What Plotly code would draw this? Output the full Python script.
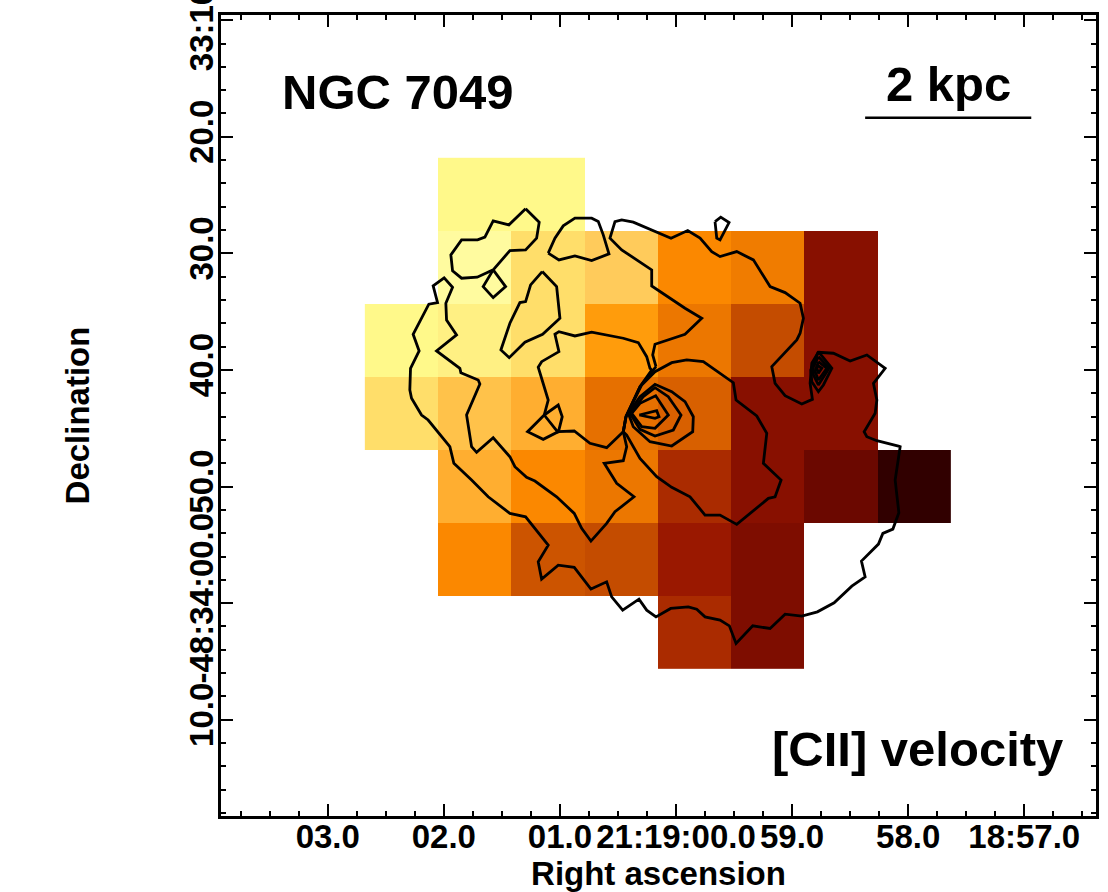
import plotly.graph_objects as go

# --- world coordinates of the map grid (grid unit = one map pixel) ---
RA_REF_I, RA_REF, RA_SCALE = 676.0, 60.0, 116.0      # RA seconds past 21:18:00
DEC_REF_J, DEC_REF, DEC_SCALE = 603.0, 60.0, 11.65   # Dec arcsec past -48:33:00


def ra(i):
    return RA_REF - (i - RA_REF_I) / RA_SCALE


def dec(j):
    return DEC_REF + (j - DEC_REF_J) / DEC_SCALE


# --- axis ticks ---
ra_ticks = [63, 62, 61, 60, 59, 58, 57]
ra_labels = ["03.0", "02.0", "01.0", "21:19:00.0", "59.0", "58.0", "18:57.0"]
ra_minor = [63.75 - 0.25 * k for k in range(30)]
dec_ticks = [10, 20, 30, 40, 50, 60, 70]
dec_labels = ["33:10.0", "20.0", "30.0", "40.0", "50.0", "-48:34:00.0", "10.0"]
dec_minor = [10 + 2 * k for k in range(35)]

# --- [CII] velocity map (arbitrary 0-100 colour-table level), rows north to south ---
vel_row0 = [None, 5, 5, None, None, None, None, None]
vel_row1 = [None, 0, 15, 20, 40, 45, 75, None]
vel_row2 = [5, 10, 15, 35, 47, 60, 75, None]
vel_row3 = [15, 25, 30, 50, 55, 75, 75, None]
vel_row4 = [None, 30, 40, 47, 65, 75, 85, 100]
vel_row5 = [None, 40, 58, 60, 70, 80, None, None]
vel_row6 = [None, None, None, None, 65, 80, None, None]
velocity = [vel_row0, vel_row1, vel_row2, vel_row3, vel_row4, vel_row5, vel_row6]
cell_i = [401.6, 474.7, 547.9, 621.0, 694.2, 767.3, 840.5, 913.6]
cell_j = [194.5, 267.5, 340.5, 413.5, 486.5, 559.5, 632.5]

colorscale = [
    [0.00, "#FFFB9F"], [0.05, "#FFF98A"], [0.10, "#FFF083"], [0.15, "#FFDE6A"],
    [0.20, "#FFCB5B"], [0.25, "#FFC24A"], [0.30, "#FFAE30"], [0.35, "#FF9C0C"],
    [0.40, "#FB8800"], [0.45, "#F07C00"], [0.50, "#E67000"], [0.55, "#D86000"],
    [0.60, "#C44C00"], [0.65, "#AA2B00"], [0.70, "#9A1800"], [0.75, "#881000"],
    [0.80, "#7E0D00"], [0.85, "#6B0800"], [1.00, "#310000"],
]

# --- contours, (i, j) map-grid vertices ---
c_outer = [(656, 366.7), (652.7, 355), (655, 344.3), (685, 334.3), (701.7, 318.3), (685, 308.3),
           (651.7, 286), (651.7, 270), (621.7, 250), (610, 238.3), (615, 221.7), (621.7, 220),
           (633.3, 222.3), (671, 238.3), (687.7, 230.7), (700, 238.3), (711.7, 251.7), (720, 256.7),
           (736.7, 251.7), (753.3, 260), (770, 286.7), (785, 292.7), (800, 303.3), (803.3, 318.3),
           (800, 333.3), (796.7, 340), (771.7, 366.7), (775, 383.3), (785, 395.7), (801.7, 404),
           (812.3, 399.3), (810, 383.3), (811.7, 363.3), (818.3, 352.3), (833.3, 353.3), (850, 361),
           (866.7, 355), (885, 368.3), (873.3, 383.3), (876.7, 400), (875, 413.3), (864, 431.7),
           (866.7, 436.7), (876.7, 440.7), (898.3, 446), (900, 446.7), (895, 480), (898.7, 512.7),
           (892.7, 529), (882.7, 533.3), (878.3, 544), (861.3, 561), (865, 576.7), (851.7, 586),
           (834, 602.7), (817.3, 611.7), (801.7, 616), (785, 614), (770, 628.3), (752.7, 625.7),
           (736, 643.3), (729.3, 625.7), (720, 620), (710, 617.3), (705, 616.7), (696.7, 609),
           (688.3, 606.7), (670.7, 608.3), (656, 616.7), (646.7, 610), (639, 599), (622.7, 610),
           (611.7, 596.7), (606.7, 581.7), (591, 589), (574.3, 567.3), (558.3, 565), (541.7, 579),
           (538.3, 561.7), (548.3, 545), (525.7, 516.7), (510, 513.3), (488.3, 496.7), (471.7, 480),
           (454, 463.3), (450, 446.7), (430, 421.7), (428.3, 420), (421.7, 415), (411.7, 398.3),
           (410, 390), (410.7, 368.3), (419.3, 351), (413.3, 334.3), (429, 304.3), (437.7, 302.7),
           (433.3, 286), (444.3, 278), (452.7, 287.3), (446, 303.3), (446.7, 320), (456.7, 335),
           (436.7, 351), (460, 368.3), (461, 372.7), (478.3, 380), (480, 384), (466.7, 415),
           (471.7, 446.7), (476.7, 452.3), (493.3, 437.7), (510, 456.7), (515, 466.7), (526.7, 477.3),
           (535, 481), (556.7, 496.7), (574.3, 513.3), (581.7, 528.3), (591, 541), (606.7, 523.3),
           (615, 511.7), (634, 496.7), (616.7, 483.3), (604.3, 463.3), (623.3, 460.7), (626.7, 446.7),
           (623.3, 431.7), (626, 416.7), (640, 386.7), (656, 366.7)]
c_west = [(623.3, 431.7), (606.7, 447.7), (590, 443.3), (574.3, 431), (558.3, 431.7), (543.3, 439.3),
          (527.7, 431.7), (544.3, 415), (548.3, 400), (538.3, 367.3), (541.7, 361.7), (559, 351.7),
          (555, 334.3), (559, 331.7), (575, 336), (591.7, 332.3), (623.3, 338.3), (638.3, 342.7),
          (646.7, 356.7), (650, 368.3), (651.7, 370), (640, 386.7), (626, 416.7), (623.3, 431.7)]
c_east = [(626, 416.7), (641.7, 385), (655, 371.7), (671.7, 362.7), (686.7, 360), (703.3, 361.7),
          (733.3, 382.7), (736, 400), (756.7, 416), (766.7, 433.3), (763.3, 463.3), (781, 480),
          (775, 496.7), (768.3, 498.3), (736.7, 524.3), (720, 515), (705, 515), (690, 496.7),
          (671.7, 487.3), (656.7, 476.7), (640, 458.3), (626.7, 435), (623.3, 431.7), (626, 416.7)]
c_tri = [(544.3, 415), (558.3, 432.7), (562.3, 416.7), (558.3, 405), (544.3, 415)]
c_blob = [(525.7, 209), (539.3, 222.3), (536.7, 238.3), (525.7, 250), (510, 250.7), (493.3, 270),
          (477.3, 277.3), (461.7, 278.3), (452.7, 271), (451, 255), (461.7, 240), (477.7, 240),
          (485, 237.3), (493.3, 221), (509, 225), (525.7, 209)]
c_diamond = [(493.3, 270), (505.7, 286.7), (493.3, 297.7), (483.3, 286.7), (493.3, 270)]
c_arch = [(548.3, 253.3), (555, 238.3), (563.3, 226), (575, 218.3), (591.7, 218.3), (598.3, 221.7),
          (603.3, 235), (609, 254), (591.7, 260.7), (575, 256), (559, 260), (548.3, 253.3)]
c_drop = [(542.3, 271.7), (556.7, 286.7), (560, 318.3), (542.7, 334.3), (525, 342.3), (509.3, 357.7),
          (501, 350), (510, 323.3), (520, 302.7), (525.7, 301.7), (530.7, 285), (542.3, 271.7)]
c_top = [(715, 221.7), (720.7, 217.3), (729, 222.7), (720, 240), (716.7, 238.3), (715, 221.7)]
c_nuc1 = [(628.3, 413.3), (640, 396.7), (655, 384.3), (671.7, 391.7), (685, 401.7), (693.3, 416.7),
          (692.7, 431.7), (671.7, 446), (650, 441.7), (633.3, 426.7), (628.3, 413.3)]
c_nuc2 = [(630, 413.3), (643.3, 396.7), (655, 387.7), (668.3, 396.7), (681, 415), (673.3, 430),
          (655, 436), (640, 429.3), (630, 413.3)]
c_nuc3 = [(631.7, 413.3), (640, 403.3), (655.7, 395.7), (668.3, 415), (655, 428.3), (641.7, 426.7),
          (631.7, 413.3)]
c_nuc4 = [(639.3, 415), (656.7, 410.7), (659, 416.7), (655, 418.3), (639.3, 415)]
c_knot1 = [(818.3, 351.7), (831.7, 368.3), (823.3, 385), (818.3, 391.7), (811.7, 381.7), (810.7, 370),
           (818.3, 351.7)]
c_knot2 = [(818.3, 356.7), (829, 368.3), (818.3, 385), (813.3, 375), (813.3, 366.7), (818.3, 356.7)]
c_knot3 = [(818.3, 361.7), (826.7, 368.3), (818.3, 380), (815, 371.7), (818.3, 361.7)]
c_knot4 = [(816.7, 365), (821.7, 368.3), (818.3, 373.3), (816.7, 368.3), (816.7, 365)]
contours = [c_outer, c_west, c_east, c_tri, c_blob, c_diamond, c_arch, c_drop, c_top,
            c_nuc1, c_nuc2, c_nuc3, c_nuc4, c_knot1, c_knot2, c_knot3, c_knot4]

scale_bar_i = [865, 1031]
scale_bar_j = [118, 118]

FONT = "Liberation Sans"
fig = go.Figure()
fig.add_trace(go.Heatmap(
    x=[ra(i) for i in cell_i], y=[dec(j) for j in cell_j], z=velocity,
    colorscale=colorscale, zmin=0, zmax=100, showscale=False, hoverongaps=False,
))
for c in contours:
    fig.add_trace(go.Scatter(
        x=[ra(p[0]) for p in c], y=[dec(p[1]) for p in c], mode="lines",
        line=dict(color="black", width=2.8), showlegend=False,
    ))
fig.add_trace(go.Scatter(
    x=[ra(i) for i in scale_bar_i], y=[dec(j) for j in scale_bar_j], mode="lines",
    line=dict(color="black", width=2.4), showlegend=False,
))

axis_common = dict(
    showgrid=False, zeroline=False, showline=True, linecolor="black", linewidth=2.6,
    mirror="ticks", ticks="inside", ticklen=12, tickwidth=2, tickcolor="black",
    tickmode="array", tickfont=dict(family=FONT, size=33, color="black", weight="bold"),
    automargin=False, ticklabeloverflow="allow",
)
fig.update_layout(
    width=1108, height=892, margin=dict(l=221.3, r=12.3, t=15.3, b=76.3),
    paper_bgcolor="white", plot_bgcolor="white", showlegend=False,
    xaxis=dict(
        axis_common, range=[ra(221.3), ra(1095.7)], tickvals=ra_ticks, ticktext=ra_labels, tickangle=0,
        ticklabelstandoff=-10,
        minor=dict(tickvals=ra_minor, ticks="inside", ticklen=5, tickwidth=2, tickcolor="black"),
        title=dict(text="Right ascension", standoff=2,
                   font=dict(family=FONT, size=33, color="black", weight="bold")),
    ),
    yaxis=dict(
        axis_common, range=[dec(815.7), dec(15.3)], tickvals=dec_ticks, ticktext=dec_labels, tickangle=-90,
        ticklabelstandoff=-8,
        minor=dict(tickvals=dec_minor, ticks="inside", ticklen=5, tickwidth=2, tickcolor="black"),
        title=dict(text="Declination", standoff=84,
                   font=dict(family=FONT, size=33, color="black", weight="bold")),
    ),
)


def note(text, i, j):
    fig.add_annotation(
        text=text, xref="x", yref="y", x=ra(i), y=dec(j),
        showarrow=False, xanchor="center", yanchor="middle",
        font=dict(family=FONT, size=49, color="black", weight="bold"),
    )


note("NGC 7049", 398, 92)
note("2 kpc", 948, 84)
note("[CII] velocity", 917.5, 749)

fig.write_html("out.html", config={"displayModeBar": False},
               post_script="document.body.style.margin='0';")
